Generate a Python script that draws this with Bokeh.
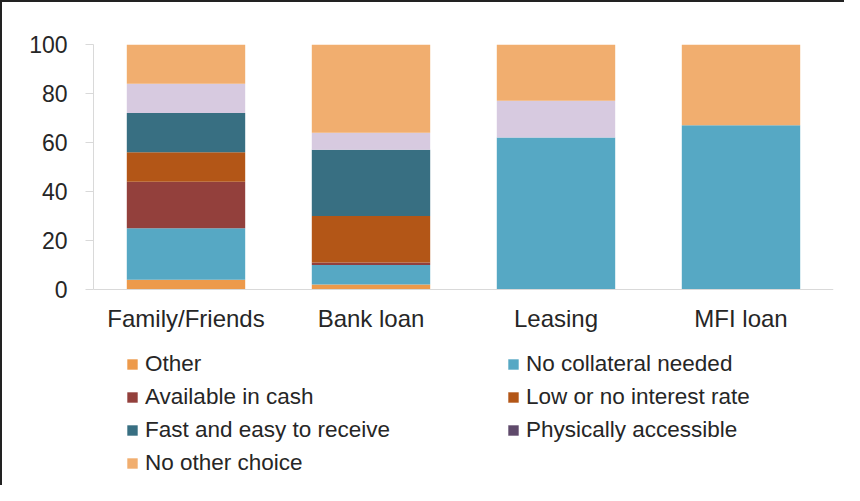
from bokeh.plotting import figure
from bokeh.models import FactorRange, Range1d, Legend, LegendItem, FixedTicker, ColumnDataSource
from bokeh.embed import file_html
from bokeh.resources import INLINE

categories = ["Family/Friends", "Bank loan", "Leasing", "MFI loan"]
series = ["Other", "No collateral needed", "Available in cash",
          "Low or no interest rate", "Fast and easy to receive",
          "Physically accessible", "No other choice"]
other = [4, 2, 0, 0]
no_collateral = [21, 8, 62, 67]
available_cash = [19, 1, 0, 0]
low_interest = [12, 19, 0, 0]
fast_easy = [16, 27, 0, 0]
physically = [12, 7, 15, 0]
no_other_choice = [16, 36, 23, 33]
y_ticks = [0, 20, 40, 60, 80, 100]

bar_colors = ["#ED9A4B", "#56A8C4", "#93403C", "#B35617", "#386F82", "#D7CAE0", "#F1AE6F"]
legend_colors = ["#ED9A4B", "#56A8C4", "#93403C", "#B35617", "#386F82", "#5F4A6B", "#F1AE6F"]

keys = ["s%d" % i for i in range(len(series))]
data = {"cat": categories}
for k, vals in zip(keys, [other, no_collateral, available_cash, low_interest,
                          fast_easy, physically, no_other_choice]):
    data[k] = vals
source = ColumnDataSource(data)

FONT = "Liberation Sans"
TXT = "#262626"

# frame extends below the value axis to hold the legend; 0..100 keeps 2.45 px/unit
p = figure(width=844, height=485, x_range=FactorRange(*categories),
           y_range=Range1d(-77.55, 100), output_backend="svg", toolbar_location=None,
           min_border_left=91, min_border_right=13, min_border_top=42,
           min_border_bottom=8)
p.styles = {"border-top": "2px solid #222222", "border-left": "2px solid #222222"}

p.vbar_stack(keys, x="cat", width=0.64, source=source, fill_color=bar_colors,
             line_color=None)

p.outline_line_color = None
p.xgrid.visible = False
p.ygrid.visible = False

p.yaxis.ticker = FixedTicker(ticks=y_ticks)
p.yaxis.bounds = (0, 100)
p.yaxis.axis_line_color = "#d9d9d9"
p.yaxis.major_tick_line_color = "#d9d9d9"
p.yaxis.major_tick_out = 8
p.yaxis.major_tick_in = 0
p.yaxis.minor_tick_line_color = None
p.yaxis.major_label_standoff = 18
p.yaxis.major_label_text_font = FONT
p.yaxis.major_label_text_font_size = "23px"
p.yaxis.major_label_text_color = TXT

p.xaxis.fixed_location = 0
p.xaxis.axis_line_color = "#d9d9d9"
p.xaxis.major_tick_line_color = None
p.xaxis.major_tick_out = 0
p.xaxis.major_label_standoff = 15
p.xaxis.major_label_text_font = FONT
p.xaxis.major_label_text_font_size = "24px"
p.xaxis.major_label_text_color = TXT

# legend swatches: zero-size markers on the real data (only their legend glyph shows)
items = []
for name, k, c in zip(series, keys, legend_colors):
    r = p.scatter(x="cat", y=k, source=source, marker="square", size=0,
                  fill_color=c, line_color=None)
    items.append(LegendItem(label=name, renderers=[r]))

legend = Legend(items=items, location=(26, 3), orientation="horizontal", ncols=2,
                glyph_width=26, glyph_height=26, label_standoff=-2, label_width=348,
                label_height=26, spacing=7, padding=0, margin=0,
                border_line_color=None, background_fill_alpha=0,
                label_text_font=FONT, label_text_font_size="22.5px",
                label_text_color=TXT)
p.add_layout(legend)

open("out.html", "w").write(file_html(p, INLINE))
